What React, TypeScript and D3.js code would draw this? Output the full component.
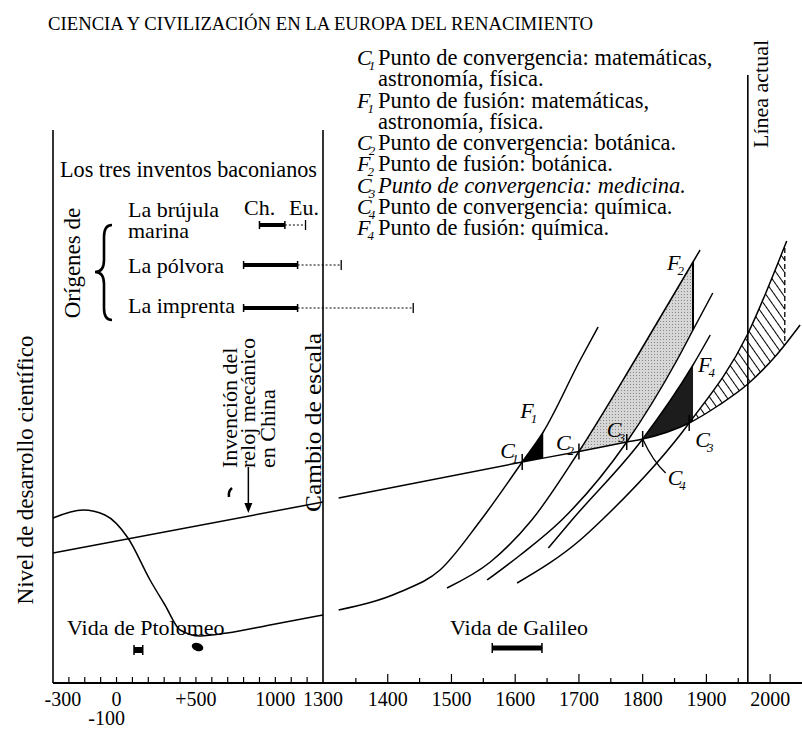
import * as d3 from 'd3';

type Pt = [number, number];

const W = 802;
const H = 730;
const FONT = '"Liberation Serif", "Times New Roman", Times, serif';

// ---- data (año, nivel) ----
// línea china: casi recta, se curva hacia arriba tras la fusión
const chinaLeft: Pt[] = [[-400, 26], [1300, 36.2]];
const chinaRight: Pt[] = [
  [1323, 37], [1611, 44.2], [1700, 46.3], [1775, 48.2], [1800, 48.8],
  [1873, 52], [1920, 55.6], [1965, 59.8], [2010, 65.6], [2047, 71.6],
];
// Europa en la Antigüedad y la Edad Media
const europeOld: Pt[] = [
  [-400, 33], [-211, 34.6], [-73, 33.6], [72, 29], [211, 20.6], [305, 15.6],
  [400, 10.6], [526, 9.4], [696, 10], [966, 11.6], [1300, 13.6],
];
// curvas europeas tras el cambio de escala
const curveMath: Pt[] = [[1323, 14.6], [1419, 18.2], [1482, 22.6], [1545, 32.4], [1611, 44.2], [1644, 50.2], [1702, 64.6], [1730, 71.2]];
const curveBotA: Pt[] = [[1493, 19], [1561, 24.2], [1626, 32.6], [1700, 46.3], [1788, 64.6], [1879, 84.2], [1890, 86.6]];
const curveBotB: Pt[] = [[1556, 20.6], [1608, 25.6], [1673, 32.6], [1775, 48.2], [1854, 64.6], [1879, 70.6], [1910, 78]];
const curveChem: Pt[] = [[1652, 27], [1689, 32.6], [1800, 48.8], [1879, 63.6], [1906, 69.6]];
const curveMed: Pt[] = [[1603, 20], [1702, 28.6], [1736, 32.6], [1873, 52], [1964, 69.6], [2026, 88.4]];

// puntos de convergencia sobre la línea china
const convergence: { id: string; sub: string; at: Pt; dx: number; dy: number }[] = [
  { id: 'C', sub: '1', at: [1611, 44.2], dx: -22, dy: -4 },
  { id: 'C', sub: '2', at: [1700, 46.3], dx: -23, dy: -2 },
  { id: 'C', sub: '3', at: [1775, 48.2], dx: -20, dy: -5 },
  { id: 'C', sub: '4', at: [1800, 48.8], dx: 25, dy: 46 },
  { id: 'C', sub: '3', at: [1873, 52], dx: 6, dy: 24 },
];
const fusion: { id: string; sub: string; at: Pt; dx: number; dy: number }[] = [
  { id: 'F', sub: '1', at: [1644, 50.2], dx: -23, dy: -14 },
  { id: 'F', sub: '2', at: [1879, 84.2], dx: -26, dy: 8 },
  { id: 'F', sub: '4', at: [1879, 63.6], dx: 5, dy: 7 },
];
const F1_YEAR = 1644;
const F2_YEAR = 1879;
const F4_YEAR = 1879;
const FUTURE_YEAR = 2023;
const PRESENT_YEAR = 1965;

const leftTicks = [-300, -200, -100, 0, 100, 200, 300, 400, 500, 600, 700, 800, 900, 1000, 1100, 1200];
const leftLabels: [number, string][] = [[-300, '-300'], [0, '0'], [500, '+500'], [1000, '1000'], [1300, '1300']];
const rightTicks = [1350, 1400, 1450, 1500, 1550, 1600, 1650, 1700, 1750, 1800, 1850, 1900, 1950, 2000];
const rightLabels = [1400, 1500, 1600, 1700, 1800, 1900, 2000];

const inventions = [
  { name: ['La brújula', 'marina'], china: [900, 1060], europe: 1190 },
  { name: ['La pólvora'], china: [800, 1140], europe: 1327 },
  { name: ['La imprenta'], china: [800, 1140], europe: 1440 },
];
const ptolemy = [110, 165];
const galileo = [1564, 1642];
const clockYear = 830;

const legend = [
  { italic: false, sym: 'C', sub: '1', lines: ['Punto de convergencia: matemáticas,', 'astronomía, física.'] },
  { italic: false, sym: 'F', sub: '1', lines: ['Punto de fusión: matemáticas,', 'astronomía, física.'] },
  { italic: false, sym: 'C', sub: '2', lines: ['Punto de convergencia: botánica.'] },
  { italic: false, sym: 'F', sub: '2', lines: ['Punto de fusión: botánica.'] },
  { italic: true, sym: 'C', sub: '3', lines: ['Punto de convergencia: medicina.'] },
  { italic: false, sym: 'C', sub: '4', lines: ['Punto de convergencia: química.'] },
  { italic: false, sym: 'F', sub: '4', lines: ['Punto de fusión: química.'] },
];

// ---- scales ----
const xLeft = d3.scaleLinear().domain([-400, 1300]).range([53, 323]);
const xRight = d3.scaleLinear().domain([1300, 2050]).range([324, 802]);
const x = (yr: number) => (yr <= 1300 ? xLeft(yr) : xRight(yr));
const y = d3.scaleLinear().domain([0, 100]).range([683, 183]);

const lineGen = d3.line<Pt>().x((d) => x(d[0])).y((d) => y(d[1])).curve(d3.curveMonotoneX);

const below = (pts: Pt[]) =>
  `${lineGen(pts)}L${x(pts[pts.length - 1][0])},${H + 50}L${x(pts[0][0])},${H + 50}Z`;
const above = (pts: Pt[]) =>
  `${lineGen(pts)}L${x(pts[pts.length - 1][0])},-50L${x(pts[0][0])},-50Z`;

function Clipped({ clips, children }: { clips: string[]; children: any }) {
  return clips.reduceRight(
    (child: any, id: string) => <g clipPath={`url(#${id})`}>{child}</g>,
    children,
  );
}

function Sym({ x0, y0, s, sub, size = 22, subSize = 13 }: any) {
  return (
    <text x={x0} y={y0} fontSize={size} fontStyle="italic">
      {s}
      <tspan fontSize={subSize} dx={-3} dy={5}>{sub}</tspan>
    </text>
  );
}

function Bar({ x0, x1, yy, w = 4, cap = 9 }: any) {
  return (
    <g stroke="#000">
      <line x1={x0} x2={x1} y1={yy} y2={yy} strokeWidth={w} />
      <line x1={x0} x2={x0} y1={yy - cap / 2} y2={yy + cap / 2} strokeWidth={1.5} />
      <line x1={x1} x2={x1} y1={yy - cap / 2} y2={yy + cap / 2} strokeWidth={1.5} />
    </g>
  );
}

export default function App() {
  const baseY = 683;
  const c1 = convergence[0].at[0];
  const c2 = convergence[1].at[0];
  const c4 = convergence[3].at[0];
  const c3 = convergence[4].at[0];
  const c4y = y(convergence[3].at[1]);
  const inventionY = [225, 265, 308];
  const inventionText = [[217, 238], [273], [313]];

  let row = 0;
  const legendRows = legend.map((item, i) => {
    const y0 = 65 + row * 21.25;
    row += item.lines.length;
    return (
      <g key={i} fontStyle={item.italic ? 'italic' : 'normal'}>
        <Sym x0={357} y0={y0} s={item.sym} sub={item.sub} />
        {item.lines.map((ln, j) => (
          <text key={j} x={378} y={y0 + j * 21.25} fontSize={22.5}>{ln}</text>
        ))}
      </g>
    );
  });

  return (
    <svg
      width={W}
      height={H}
      style={{ position: 'absolute', left: 0, top: 0, background: '#fff' }}
      fontFamily={FONT}
    >
      <defs>
        <clipPath id="aboveChina"><path d={above(chinaRight)} /></clipPath>
        <clipPath id="belowMath"><path d={below(curveMath)} /></clipPath>
        <clipPath id="belowBotA"><path d={below(curveBotA)} /></clipPath>
        <clipPath id="aboveBotB"><path d={above(curveBotB)} /></clipPath>
        <clipPath id="belowChem"><path d={below(curveChem)} /></clipPath>
        <clipPath id="belowMed"><path d={below(curveMed)} /></clipPath>
        <pattern id="hatch" patternUnits="userSpaceOnUse" width={7} height={7} patternTransform="rotate(-35)">
          <line x1={3.5} x2={3.5} y1={0} y2={7} stroke="#000" strokeWidth={1} />
        </pattern>
        <pattern id="dots" patternUnits="userSpaceOnUse" width={3} height={3}>
          <rect width={3} height={3} fill="#d6d6d6" />
          <rect width={1} height={1} fill="#8a8a8a" />
        </pattern>
      </defs>

      {/* title */}
      <text x={48} y={30} fontSize={19} textLength={545} lengthAdjust="spacingAndGlyphs">
        CIENCIA Y CIVILIZACIÓN EN LA EUROPA DEL RENACIMIENTO
      </text>

      {/* legend */}
      {legendRows}

      {/* filled regions */}
      <Clipped clips={['aboveChina', 'belowMath']}>
        <rect x={x(c1)} width={x(F1_YEAR) - x(c1)} y={0} height={H} fill="#000" />
      </Clipped>
      <Clipped clips={['aboveChina', 'belowBotA', 'aboveBotB']}>
        <rect x={x(c2)} width={x(F2_YEAR) - x(c2)} y={0} height={H} fill="url(#dots)" />
        <line x1={x(F2_YEAR)} x2={x(F2_YEAR)} y1={0} y2={H} stroke="#000" strokeWidth={2} />
      </Clipped>
      <Clipped clips={['aboveChina', 'belowChem']}>
        <rect x={x(c4)} width={x(F4_YEAR) - x(c4)} y={0} height={H} fill="#1c1c1c" />
      </Clipped>
      <Clipped clips={['aboveChina', 'belowMed']}>
        <rect x={x(c3)} width={x(FUTURE_YEAR) - x(c3)} y={0} height={H} fill="url(#hatch)" />
        <line x1={x(FUTURE_YEAR)} x2={x(FUTURE_YEAR)} y1={0} y2={H} stroke="#000" strokeWidth={1.3} strokeDasharray="5,3" />
      </Clipped>

      {/* curves */}
      <g fill="none" stroke="#000" strokeWidth={1.5}>
        <path d={lineGen(chinaLeft) ?? ''} />
        <path d={lineGen(chinaRight) ?? ''} />
        <path d={lineGen(europeOld) ?? ''} />
        <path d={lineGen(curveMath) ?? ''} />
        <path d={lineGen(curveBotA) ?? ''} />
        <path d={lineGen(curveBotB) ?? ''} />
        <path d={lineGen(curveChem) ?? ''} />
        <path d={lineGen(curveMed) ?? ''} />
      </g>

      {/* convergence ticks and labels */}
      {convergence.map((c, i) => (
        <g key={i}>
          <line x1={x(c.at[0])} x2={x(c.at[0])} y1={y(c.at[1]) - 8} y2={y(c.at[1]) + 8} stroke="#000" strokeWidth={1.5} />
          <Sym x0={x(c.at[0]) + c.dx} y0={y(c.at[1]) + c.dy} s={c.id} sub={c.sub} />
        </g>
      ))}
      {/* leader for C4 */}
      <path
        d={`M${x(c4)},${c4y} Q${x(c4) + 10},${c4y + 22} ${x(c4) + 23},${c4y + 34}`}
        fill="none"
        stroke="#000"
        strokeWidth={1.3}
      />
      {fusion.map((f, i) => (
        <Sym key={i} x0={x(f.at[0]) + f.dx} y0={y(f.at[1]) + f.dy} s={f.id} sub={f.sub} />
      ))}

      {/* frame lines */}
      <g stroke="#000" strokeWidth={1.6}>
        <line x1={x(-400)} x2={x(-400)} y1={130} y2={baseY} />
        <line x1={x(1300)} x2={x(1300)} y1={130} y2={baseY} />
        <line x1={x(PRESENT_YEAR)} x2={x(PRESENT_YEAR)} y1={75} y2={baseY} />
        <line x1={x(-400)} x2={W} y1={baseY} y2={baseY} strokeWidth={2} />
      </g>

      {/* axis ticks */}
      <g stroke="#000" strokeWidth={1.2}>
        {leftTicks.map((t) => (
          <line key={t} x1={xLeft(t)} x2={xLeft(t)} y1={baseY - 6} y2={baseY} />
        ))}
        {rightTicks.map((t) => (
          <line key={t} x1={xRight(t)} x2={xRight(t)} y1={baseY - (t % 100 === 0 ? 9 : 5)} y2={baseY} />
        ))}
      </g>
      <g fontSize={20} textAnchor="middle">
        {leftLabels.map(([v, s]) => (
          <text key={v} x={xLeft(v) + (v === -300 ? -6 : 0)} y={706}>{s}</text>
        ))}
        <text x={xLeft(-100) + 6} y={725}>-100</text>
        {rightLabels.map((v) => (
          <text key={v} x={xRight(v)} y={706}>{v}</text>
        ))}
      </g>

      {/* y label */}
      <text transform="translate(33,470) rotate(-90)" fontSize={23} textAnchor="middle">
        Nivel de desarrollo científico
      </text>

      {/* Baconian inventions */}
      <text x={60} y={177} fontSize={22.2}>Los tres inventos baconianos</text>
      <text transform="translate(80,263) rotate(-90)" fontSize={23} textAnchor="middle">Orígenes de</text>
      <path
        d="M112,225 Q104,225 104,237 L104,260 Q104,272 95,272 Q104,272 104,284 L104,308 Q104,320 112,320"
        fill="none"
        stroke="#000"
        strokeWidth={2.6}
      />
      <text x={244} y={215} fontSize={22}>Ch.</text>
      <text x={289} y={215} fontSize={22}>Eu.</text>
      {inventions.map((inv, i) => (
        <g key={i}>
          {inv.name.map((n, j) => (
            <text key={j} x={128} y={inventionText[i][j]} fontSize={22}>{n}</text>
          ))}
          <Bar x0={x(inv.china[0])} x1={x(inv.china[1])} yy={inventionY[i]} w={4} cap={8} />
          <line x1={x(inv.china[1])} x2={x(inv.europe)} y1={inventionY[i]} y2={inventionY[i]} stroke="#000" strokeWidth={1} strokeDasharray="2,2" />
          <line x1={x(inv.europe)} x2={x(inv.europe)} y1={inventionY[i] - 5} y2={inventionY[i] + 5} stroke="#000" strokeWidth={1.3} />
        </g>
      ))}

      {/* clock */}
      <g fontSize={22}>
        <text transform="translate(237,468) rotate(-90)">Invención del</text>
        <text transform="translate(255,468) rotate(-90)">reloj mecánico</text>
        <text transform="translate(275,468) rotate(-90)">en China</text>
      </g>
      <line x1={x(clockYear)} x2={x(clockYear)} y1={467} y2={505} stroke="#000" strokeWidth={1.5} />
      <path d={`M${x(clockYear) - 4},${503} L${x(clockYear)},${513} L${x(clockYear) + 4},${503} Z`} fill="#000" />
      <path d="M232,488 q-4,3 -3,9" fill="none" stroke="#000" strokeWidth={2.5} />

      {/* scale change and present */}
      <text transform="translate(321,512) rotate(-90)" fontSize={23} textLength={179} lengthAdjust="spacingAndGlyphs">
        Cambio de escala
      </text>
      <text transform={`translate(${x(PRESENT_YEAR) + 20},148) rotate(-90)`} fontSize={22}>Línea actual</text>

      {/* lives */}
      <text x={67} y={635} fontSize={22}>Vida de Ptolomeo</text>
      <Bar x0={x(ptolemy[0])} x1={x(ptolemy[1])} yy={650} w={6} cap={10} />
      <ellipse cx={x(510)} cy={647} rx={6} ry={4} transform={`rotate(20 ${x(510)} 647)`} fill="#000" />
      <text x={450} y={635} fontSize={22}>Vida de Galileo</text>
      <Bar x0={x(galileo[0])} x1={x(galileo[1])} yy={648} w={5} cap={10} />
    </svg>
  );
}
